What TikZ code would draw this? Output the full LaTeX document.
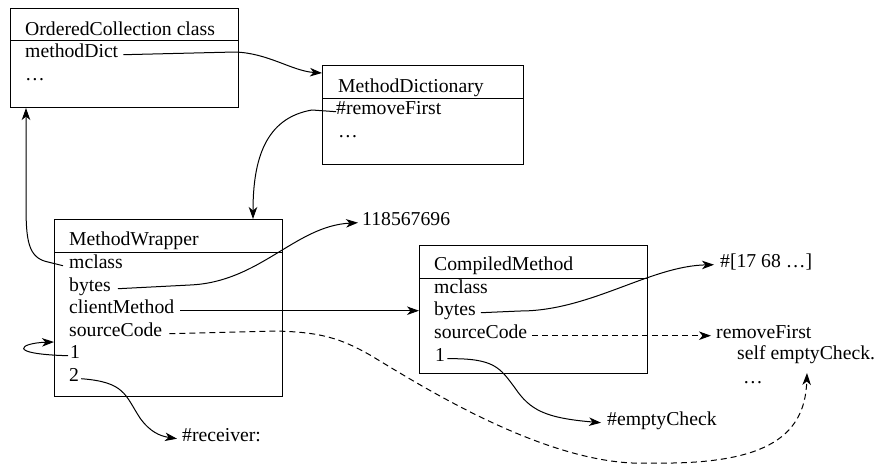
\documentclass[tikz,border=0pt]{standalone}
\usepackage{fontspec}
\setmainfont{Liberation Serif}
\usetikzlibrary{arrows.meta}
\begin{document}
\begin{tikzpicture}[x=1pt,y=-1pt,
  txt/.style={inner sep=0pt, anchor=base west, font=\fontsize{19.7}{22.7}\selectfont},
  box/.style={draw, line width=1pt, inner sep=0pt, anchor=north west},
  divider/.style={line width=1pt},
  conn/.style={line width=1pt, -{Stealth[length=12pt,width=8.5pt,inset=3.5pt]}},
  dsh/.style={conn, dash pattern=on 6pt off 4pt}]
\useasboundingbox (0,0) rectangle (875,466);

% boxes
\node[box, minimum width=228pt, minimum height=99pt] (oc) at (10,8) {};
\draw[divider] ([yshift=-32pt]oc.north west) -- ([yshift=-32pt]oc.north east);
\node[box, minimum width=201pt, minimum height=99pt] (md) at (322,65) {};
\draw[divider] ([yshift=-33pt]md.north west) -- ([yshift=-33pt]md.north east);
\node[box, minimum width=228pt, minimum height=177pt] (mw) at (54,219) {};
\draw[divider] ([yshift=-33pt]mw.north west) -- ([yshift=-33pt]mw.north east);
\node[box, minimum width=228pt, minimum height=128pt] (cm) at (419,245) {};
\draw[divider] ([yshift=-33pt]cm.north west) -- ([yshift=-33pt]cm.north east);

% OrderedCollection class
\node[txt] (octitle) at (25,35) {OrderedCollection class};
\node[txt] (ocmd) at (25,57) {methodDict};
\node[txt] (ocdots) at (25,80) {…};
% MethodDictionary
\node[txt] (mdtitle) at (338,92) {MethodDictionary};
\node[txt] (mdrf) at (336,114) {\#removeFirst};
\node[txt] (mddots) at (338,137) {…};
% MethodWrapper
\node[txt] (mwtitle) at (69,245) {MethodWrapper};
\node[txt] (mwmclass) at (69,268) {mclass};
\node[txt] (mwbytes) at (69,291) {bytes};
\node[txt] (mwcm) at (69,313) {clientMethod};
\node[txt] (mwsc) at (69,336) {sourceCode};
\node[txt] (mwone) at (70,358) {1};
\node[txt] (mwtwo) at (69,381) {2};
% CompiledMethod
\node[txt] (cmtitle) at (434,270) {CompiledMethod};
\node[txt] (cmmclass) at (434,293) {mclass};
\node[txt] (cmbytes) at (434,315) {bytes};
\node[txt] (cmsc) at (434,338) {sourceCode};
\node[txt] (cmone) at (435,361) {1};
% free texts
\node[txt] (num) at (362,225) {118567696};
\node[txt] (arr) at (720,267) {\#[17 68 …]};
\node[txt] (rf) at (716,338) {removeFirst};
\node[txt] (sec) at (737,359) {self emptyCheck.};
\node[txt] (srcdots) at (743,383) {…};
\node[txt] (ec) at (607,425) {\#emptyCheck};
\node[txt] (recv) at (182,441) {\#receiver:};
\coordinate (codetip) at (807,373);

% connectors
\draw[conn] ([xshift=5pt]ocmd.mid east) -- (235,52)
  .. controls (268,53) and (292,71) .. ([yshift=-8pt]md.north west);
\draw[conn] (mdrf.mid west) -- (312,110)
  .. controls (265,118) and (253,160) .. ([xshift=199pt]mw.north west);
\draw[conn] ([xshift=-6pt]mwmclass.mid west) -- (48,262)
  .. controls (28,258) and (26,240) .. (26,205) -- ([xshift=16pt]oc.south west);
\draw[conn] ([xshift=7pt]mwbytes.mid east) -- (190,285)
  .. controls (260,282) and (295,226) .. ([xshift=-4pt]num.mid west);
\draw[conn] ([xshift=6pt]mwcm.mid east) -- (mwcm.mid east -| cm.west);
\draw[dsh] ([xshift=7pt]mwsc.mid east) -- (275,331)
  .. controls (320,332) and (340,338) .. (370,355)
  .. controls (420,385) and (550,468) .. (650,463)
  .. controls (760,465) and (805,440) .. (codetip);
\draw[conn] ([xshift=-2pt]mwone.mid west)
  .. controls (5,354) and (20,343) .. ([yshift=-123pt]mw.north west);
\draw[conn] ([xshift=2pt]mwtwo.mid east)
  .. controls (125,382) and (125,395) .. (140,418)
  .. controls (150,432) and (160,436) .. ([xshift=-5pt]recv.mid west);
\draw[conn] ([xshift=5pt]cmbytes.mid east) -- (520,311)
  .. controls (590,311) and (650,266) .. ([xshift=-6pt]arr.mid west);
\draw[dsh] ([xshift=5pt]cmsc.mid east) -- ([xshift=-5pt]rf.mid west);
\draw[conn] ([xshift=2pt]cmone.mid east)
  .. controls (495,358) and (500,368) .. (515,388)
  .. controls (530,410) and (545,418) .. ([xshift=-6pt]ec.mid west);
\end{tikzpicture}
\end{document}
